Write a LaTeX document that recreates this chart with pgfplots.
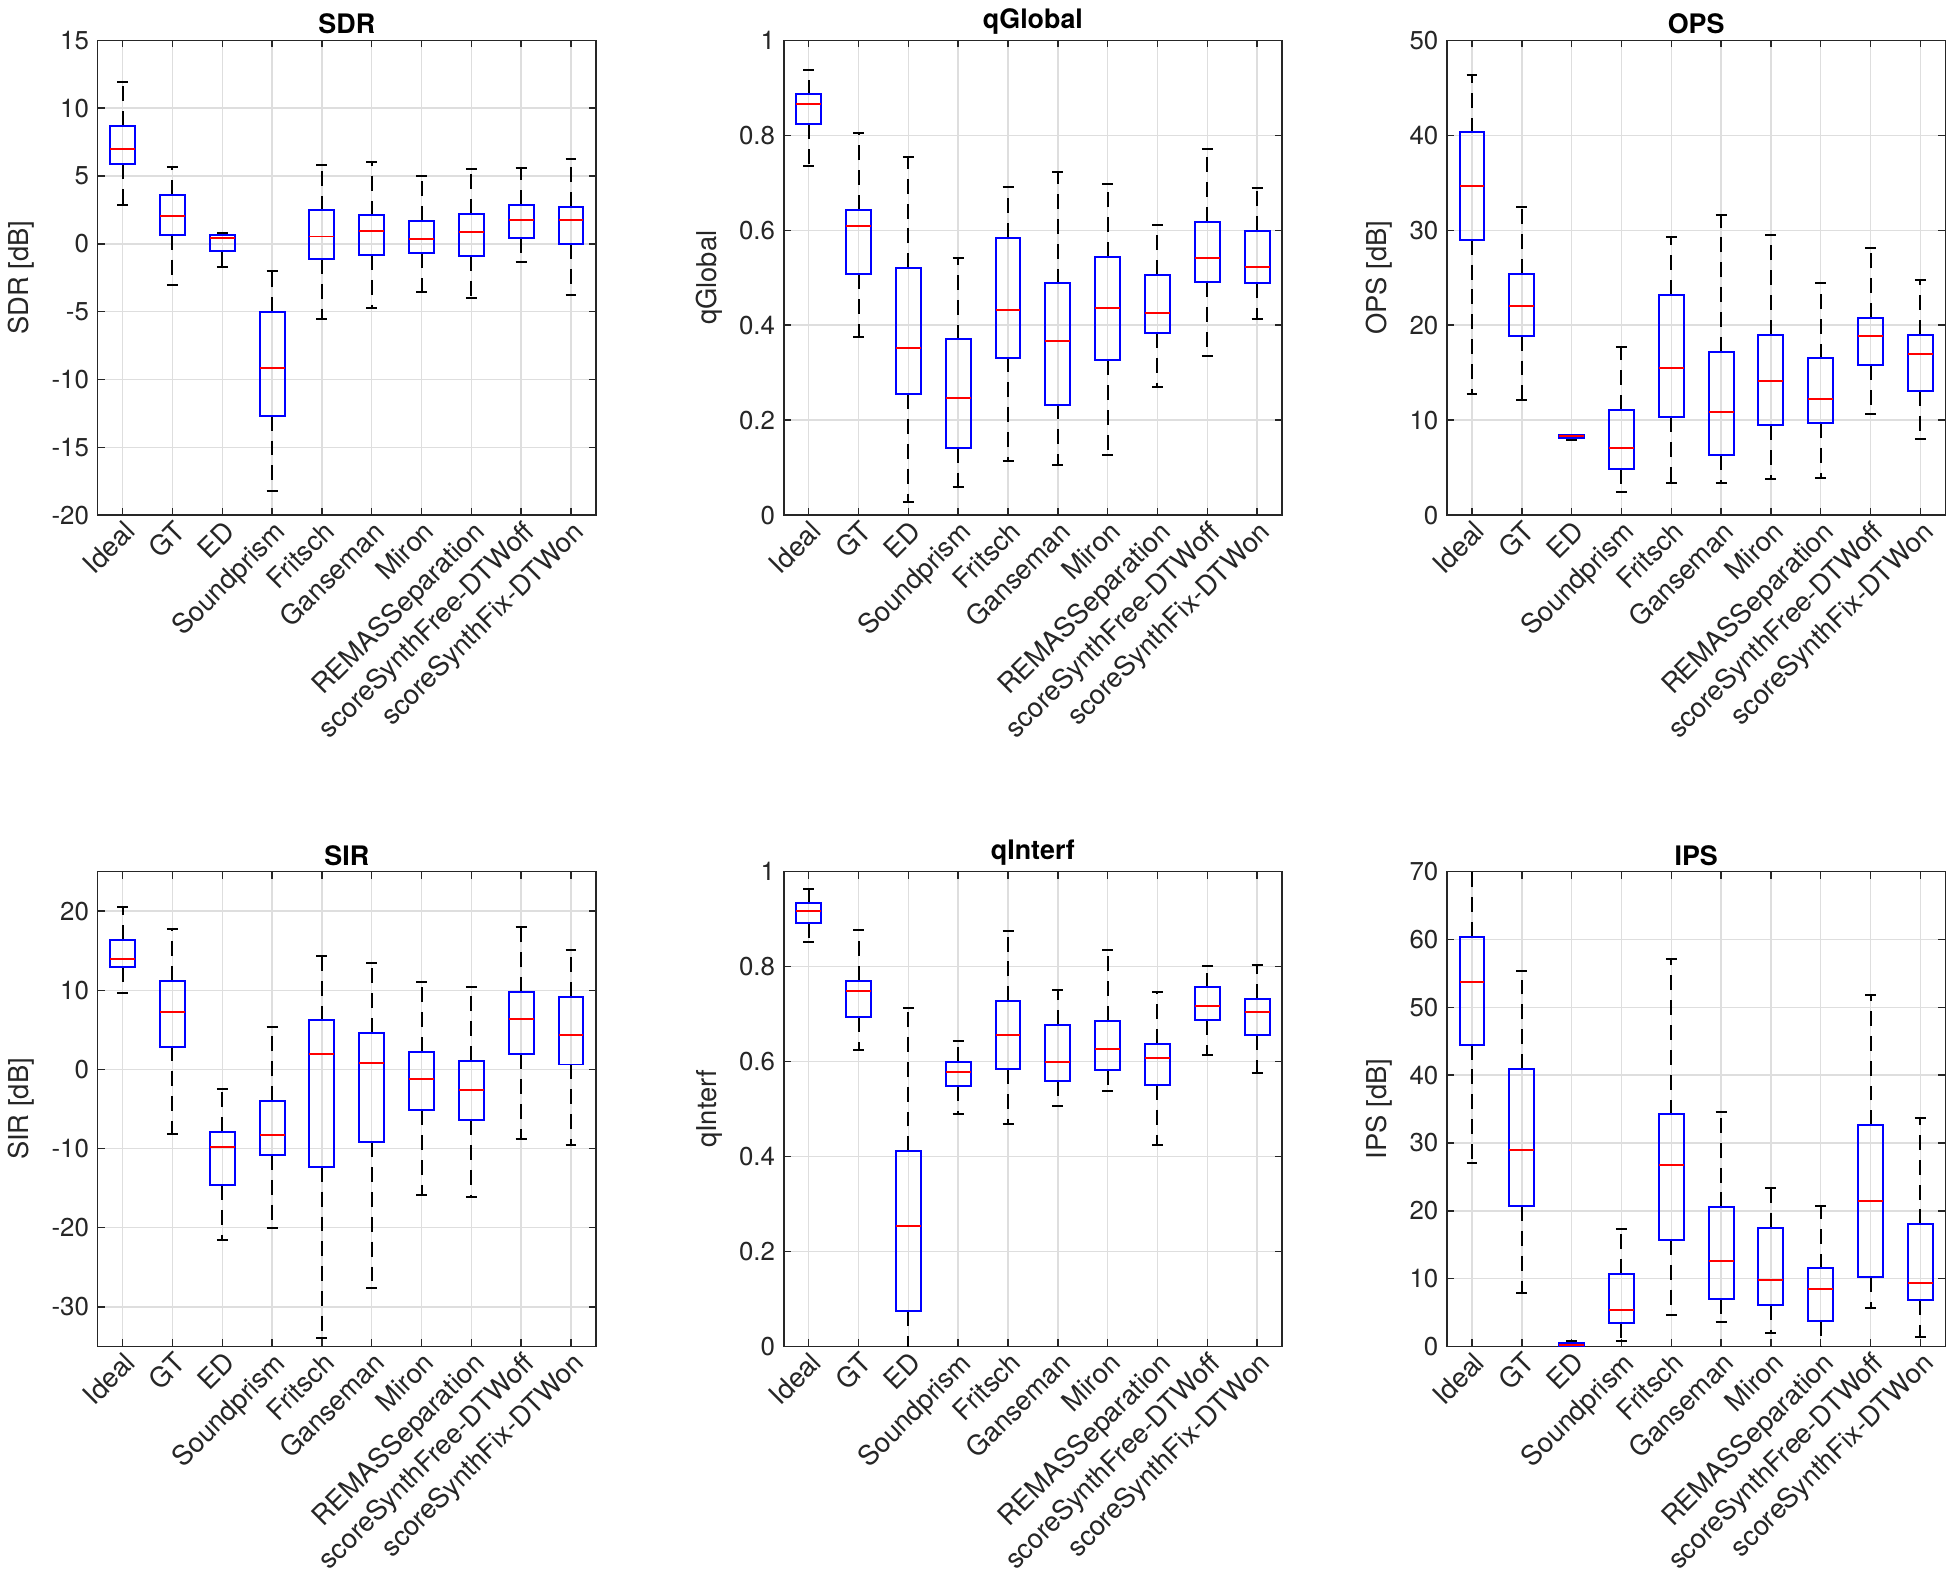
\documentclass[border=0pt]{standalone}
\usepackage{fontspec}
\setmainfont{TeX Gyre Heros}
\usepackage{pgfplots}
\pgfplotsset{compat=1.18}
\usepgfplotslibrary{statistics}

% one box: position, lower whisker, Q1, median, Q3, upper whisker
\newcommand{\bx}[6]{\addplot[boxplot prepared={draw position=#1, lower whisker=#2,
  lower quartile=#3, median=#4, upper quartile=#5, upper whisker=#6}] coordinates {};}

\pgfplotsset{
  panel/.style={
    scale only axis, width=200.4pt, height=191pt,
    xmin=0.5, xmax=10.5, xtick={1,...,10},
    xticklabels={Ideal,GT,ED,Soundprism,Fritsch,Ganseman,Miron,REMASSeparation,scoreSynthFree-DTWoff,scoreSynthFix-DTWon},
    grid=major, major grid style={black!13, line width=0.6pt},
    axis line style={black!85, line width=0.6pt},
    tick style={black!85, line width=0.6pt},
    major tick length=2.8pt, tick align=inside,
    every tick label/.append style={font=\fontsize{10.4}{12}\selectfont, text=black!85},
    xticklabel style={rotate=45, anchor=north east, inner sep=1pt, font=\fontsize{11}{12}\selectfont},
    title style={font=\bfseries\fontsize{10.8}{12}\selectfont, yshift=-7pt},
    label style={font=\fontsize{11}{13}\selectfont, text=black!85},
    /pgf/number format/assume math mode=true,
    boxplot/draw direction=y,
    boxplot/box extend=0.5,
    boxplot/whisker extend=0.22,
    boxplot/draw/box/.code={\draw[blue, line width=0.8pt]
      (boxplot box cs:\pgfplotsboxplotvalue{lower quartile},0) rectangle
      (boxplot box cs:\pgfplotsboxplotvalue{upper quartile},1);},
    boxplot/draw/median/.code={\draw[red, line width=0.8pt]
      (boxplot box cs:\pgfplotsboxplotvalue{median},0) --
      (boxplot box cs:\pgfplotsboxplotvalue{median},1);},
    boxplot/draw/lower whisker/.code={
      \draw[black, line width=0.8pt, dash pattern=on 6pt off 4pt]
        (boxplot cs:\pgfplotsboxplotvalue{lower quartile}) --
        (boxplot cs:\pgfplotsboxplotvalue{lower whisker});
      \draw[black, line width=0.8pt]
        (boxplot whisker cs:\pgfplotsboxplotvalue{lower whisker},0) --
        (boxplot whisker cs:\pgfplotsboxplotvalue{lower whisker},1);},
    boxplot/draw/upper whisker/.code={
      \draw[black, line width=0.8pt, dash pattern=on 6pt off 4pt]
        (boxplot cs:\pgfplotsboxplotvalue{upper quartile}) --
        (boxplot cs:\pgfplotsboxplotvalue{upper whisker});
      \draw[black, line width=0.8pt]
        (boxplot whisker cs:\pgfplotsboxplotvalue{upper whisker},0) --
        (boxplot whisker cs:\pgfplotsboxplotvalue{upper whisker},1);},
  },
}

\begin{document}
\begin{tikzpicture}

% ---------- SDR ----------
\begin{axis}[panel, at={(34.4pt,-204.4pt)}, anchor=south west,
  title={SDR}, ylabel={SDR [dB]}, ymin=-20, ymax=15, ytick={-20,-15,...,15}]
\bx{1}{2.88}{5.86}{7.00}{8.70}{11.9}
\bx{2}{-3.00}{0.66}{2.07}{3.60}{5.69}
\bx{3}{-1.73}{-0.55}{0.44}{0.66}{0.81}
\bx{4}{-18.25}{-12.67}{-9.12}{-5.04}{-2.00}
\bx{5}{-5.53}{-1.12}{0.54}{2.46}{5.84}
\bx{6}{-4.75}{-0.82}{0.93}{2.09}{6.02}
\bx{7}{-3.56}{-0.70}{0.34}{1.70}{5.03}
\bx{8}{-4.02}{-0.89}{0.88}{2.21}{5.50}
\bx{9}{-1.34}{0.46}{1.79}{2.88}{5.62}
\bx{10}{-3.78}{-0.01}{1.79}{2.71}{6.24}
\end{axis}

% ---------- qGlobal ----------
\begin{axis}[panel, at={(310.4pt,-204.4pt)}, anchor=south west,
  title={qGlobal}, ylabel={qGlobal}, ymin=0, ymax=1, ytick={0,0.2,...,1}]
\bx{1}{0.735}{0.823}{0.866}{0.886}{0.938}
\bx{2}{0.376}{0.507}{0.609}{0.643}{0.804}
\bx{3}{0.028}{0.255}{0.353}{0.520}{0.755}
\bx{4}{0.059}{0.142}{0.246}{0.370}{0.542}
\bx{5}{0.115}{0.332}{0.433}{0.584}{0.691}
\bx{6}{0.106}{0.233}{0.366}{0.488}{0.723}
\bx{7}{0.127}{0.326}{0.437}{0.544}{0.697}
\bx{8}{0.269}{0.384}{0.426}{0.506}{0.611}
\bx{9}{0.336}{0.490}{0.541}{0.618}{0.771}
\bx{10}{0.413}{0.489}{0.523}{0.599}{0.688}
\end{axis}

% ---------- OPS ----------
\begin{axis}[panel, at={(577.2pt,-204.4pt)}, anchor=south west,
  title={OPS}, ylabel={OPS [dB]}, ymin=0, ymax=50, ytick={0,10,...,50}]
\bx{1}{12.8}{29.0}{34.7}{40.3}{46.3}
\bx{2}{12.1}{18.9}{22.0}{25.4}{32.4}
\bx{3}{7.9}{8.1}{8.3}{8.4}{8.46}
\bx{4}{2.40}{4.87}{7.09}{11.1}{17.7}
\bx{5}{3.35}{10.3}{15.5}{23.2}{29.3}
\bx{6}{3.35}{6.31}{10.9}{17.2}{31.6}
\bx{7}{3.77}{9.45}{14.1}{19.0}{29.5}
\bx{8}{3.88}{9.70}{12.2}{16.5}{24.4}
\bx{9}{10.6}{15.8}{18.9}{20.8}{28.1}
\bx{10}{8.04}{13.1}{17.0}{19.0}{24.8}
\end{axis}

% ---------- SIR ----------
\begin{axis}[panel, at={(34.4pt,-538.8pt)}, anchor=south west,
  title={SIR}, ylabel={SIR [dB]}, ymin=-35, ymax=25, ytick={-30,-20,...,20}]
\bx{1}{9.7}{12.9}{14.0}{16.4}{20.5}
\bx{2}{-8.2}{2.9}{7.3}{11.2}{17.7}
\bx{3}{-21.5}{-14.6}{-9.8}{-7.9}{-2.5}
\bx{4}{-20.0}{-10.8}{-8.3}{-4.0}{5.4}
\bx{5}{-33.9}{-12.3}{1.9}{6.2}{14.4}
\bx{6}{-27.6}{-9.2}{0.76}{4.65}{13.5}
\bx{7}{-15.8}{-5.16}{-1.23}{2.24}{11.0}
\bx{8}{-16.1}{-6.39}{-2.62}{1.10}{10.4}
\bx{9}{-8.84}{1.90}{6.43}{9.77}{18.0}
\bx{10}{-9.6}{0.63}{4.36}{9.22}{15.1}
\end{axis}

% ---------- qInterf ----------
\begin{axis}[panel, at={(310.4pt,-538.8pt)}, anchor=south west,
  title={qInterf}, ylabel={qInterf}, ymin=0, ymax=1, ytick={0,0.2,...,1}]
\bx{1}{0.851}{0.892}{0.918}{0.934}{0.963}
\bx{2}{0.624}{0.693}{0.749}{0.770}{0.877}
\bx{3}{-0.02}{0.074}{0.254}{0.411}{0.713}
\bx{4}{0.489}{0.549}{0.579}{0.599}{0.644}
\bx{5}{0.468}{0.584}{0.656}{0.727}{0.875}
\bx{6}{0.506}{0.559}{0.600}{0.677}{0.751}
\bx{7}{0.539}{0.583}{0.627}{0.686}{0.834}
\bx{8}{0.425}{0.551}{0.608}{0.637}{0.746}
\bx{9}{0.613}{0.687}{0.718}{0.756}{0.802}
\bx{10}{0.575}{0.655}{0.704}{0.732}{0.804}
\end{axis}

% ---------- IPS ----------
\begin{axis}[panel, at={(577.2pt,-538.8pt)}, anchor=south west,
  title={IPS}, ylabel={IPS [dB]}, ymin=0, ymax=70, ytick={0,10,...,70}]
\bx{1}{27.1}{44.5}{53.8}{60.4}{71}
\bx{2}{7.9}{20.7}{29.0}{40.9}{55.3}
\bx{3}{-0.5}{0.0}{0.15}{0.44}{0.84}
\bx{4}{0.74}{3.45}{5.4}{10.7}{17.3}
\bx{5}{4.6}{15.7}{26.7}{34.2}{57.1}
\bx{6}{3.65}{6.95}{12.6}{20.5}{34.5}
\bx{7}{1.97}{6.16}{9.8}{17.5}{23.3}
\bx{8}{-0.5}{3.8}{8.4}{11.5}{20.7}
\bx{9}{5.6}{10.2}{21.4}{32.6}{51.8}
\bx{10}{1.33}{6.85}{9.3}{18.0}{33.7}
\end{axis}

\end{tikzpicture}
\end{document}
